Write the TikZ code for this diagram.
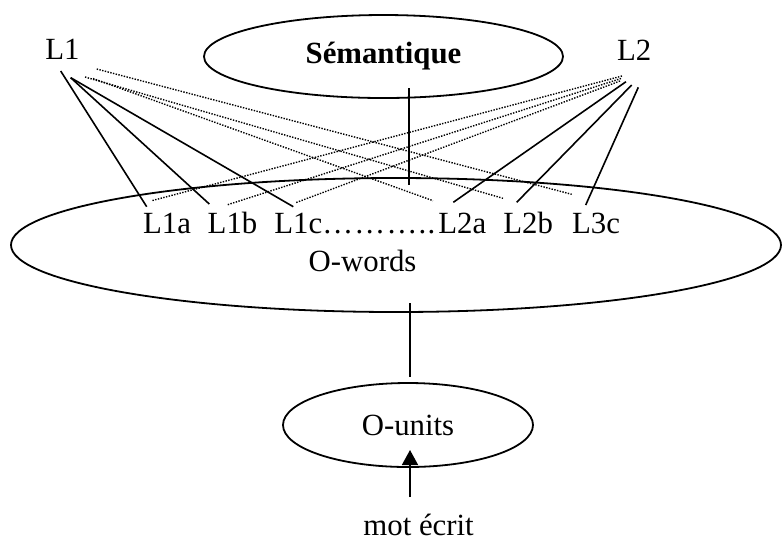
\documentclass[tikz,border=0pt]{standalone}
\usepackage{fontspec}
\setmainfont{Liberation Serif}
\usetikzlibrary{shapes.geometric,arrows.meta}
\begin{document}
\begin{tikzpicture}[x=0.5pt,y=-0.5pt,
  txt/.style={inner sep=0pt,anchor=base west,font=\fontsize{15.4}{18}\selectfont},
  oval/.style={draw,ellipse,inner sep=0pt,line width=0.9pt,font=\fontsize{15.4}{18}\selectfont},
  link/.style={line width=0.8pt},
  dotlink/.style={line width=0.7pt,dash pattern=on 0.7pt off 0.7pt}]
\useasboundingbox (0,0) rectangle (782,538);
% ellipses
\node[oval,minimum width=179.5pt,minimum height=41.5pt,font=\fontsize{15.4}{18}\selectfont\bfseries] (sem) at (383.5,56.5) {Sémantique};
\node[oval,minimum width=385pt,minimum height=67pt] (ow) at (396,245) {};
\node[oval,minimum width=125pt,minimum height=42pt] (ou) at (408,425) {O-units};
% texts
\node[txt] (L1) at (45,59.5) {L1};
\node[txt] (L2) at (616.7,60.7) {L2};
\node[txt] (L1a) at (142.7,233) {L1a};
\node[txt] (L1b) at (207.3,233) {L1b};
\node[txt] (L1c) at (274,233) {L1c};
\node[txt] (dots) at (322,233) {\makebox[56.5pt][s]{…\hfill…\hfill…\hfill.\hfill.}};
\node[txt] (L2a) at (438,233) {L2a};
\node[txt] (L2b) at (503,233) {L2b};
\node[txt] (L3c) at (571.7,233) {L3c};
\node[txt] (owt) at (308.3,271.7) {O-words};
\node[txt] (mot) at (363,535) {mot écrit};
% connector ends
\coordinate (a1) at (60.7,71);
\coordinate (a2) at (70.7,77.7);
\coordinate (d1) at (96.7,69);
\coordinate (d2) at (85,77);
\coordinate (d3) at (93,78.5);
\coordinate (b1) at (626,81.7);
\coordinate (b2) at (631.7,85);
\coordinate (b3) at (638.3,87.3);
\coordinate (e1) at (622,76);
\coordinate (e2) at (621,78.5);
\coordinate (e3) at (620,81);
\coordinate (t1a) at (146.7,206.7);
\coordinate (t1b) at (209.3,204);
\coordinate (t1c) at (293.3,206.7);
\coordinate (u1a) at (151.7,200.7);
\coordinate (u1b) at (226.7,205);
\coordinate (u1c) at (295.7,202.7);
\coordinate (t2a) at (453.3,202.3);
\coordinate (t2b) at (516.7,202.3);
\coordinate (t3c) at (585.7,205);
\coordinate (u2a) at (433,200.7);
\coordinate (u2b) at (503,198.3);
\coordinate (u3c) at (571.7,194.3);
\coordinate (semlo) at (409,88);
\coordinate (owhi) at (409,185);
\coordinate (owlo) at (410,303);
\coordinate (ouhi) at (410,377);
\coordinate (motup) at (410,497);
\coordinate (oulo) at (410,450);
% L1 links
\draw[link] (a1) -- (t1a);
\draw[link] (a2) -- (t1b);
\draw[link] (a2) -- (t1c);
\draw[dotlink] (d1) -- (u3c);
\draw[dotlink] (d2) -- (u2b);
\draw[dotlink] (d3) -- (u2a);
% L2 links
\draw[link] (b1) -- (t2a);
\draw[link] (b2) -- (t2b);
\draw[link] (b3) -- (t3c);
\draw[dotlink] (e1) -- (u1a);
\draw[dotlink] (e2) -- (u1b);
\draw[dotlink] (e3) -- (u1c);
% vertical links
\draw[link] (semlo) -- (owhi);
\draw[link] (owlo) -- (ouhi);
\draw[link,-{Triangle[width=8pt,length=7.5pt]}] (motup) -- (oulo);
\end{tikzpicture}
\end{document}
